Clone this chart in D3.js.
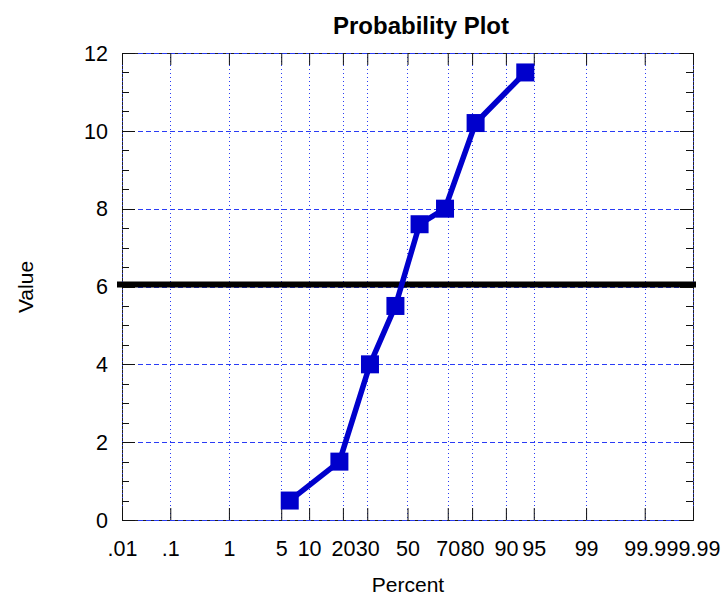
<!DOCTYPE html>
<html>
<head>
<meta charset="utf-8">
<script src="https://cdn.jsdelivr.net/npm/d3@7"></script>
<style>
  html, body { margin: 0; padding: 0; background: #fff; }
  svg { display: block; }
  text { font-family: "Liberation Sans", Arial, sans-serif; fill: #000; }
</style>
</head>
<body>
<svg id="chart" width="727" height="598"></svg>
<script>
// Percent plotting positions and observed values
const percents = [6.25, 18.75, 31.25, 43.75, 56.25, 68.75, 81.25, 93.75];
const values = [0.5, 1.5, 4.0, 5.5, 7.6, 8.0, 10.2, 11.5];

// Reference line (sample mean)
const refValue = 6.05;

// Probability axis ticks
const xTickPercents = [0.01, 0.1, 1, 5, 10, 20, 30, 50, 70, 80, 90, 95, 99, 99.9, 99.99];
const xTickLabels = [".01", ".1", "1", "5", "10", "20", "30", "50", "70", "80", "90", "95", "99", "99.9", "99.99"];

// Value axis ticks
const yTickValues = [0, 2, 4, 6, 8, 10, 12];
const yMinorValues = d3.range(0, 12.01, 0.5);

// Inverse standard normal CDF (Acklam's rational approximation)
function normInv(p) {
  const a = [-3.969683028665376e+01, 2.209460984245205e+02, -2.759285104469687e+02,
             1.383577518672690e+02, -3.066479806614716e+01, 2.506628277459239e+00];
  const b = [-5.447609879822406e+01, 1.615858368580409e+02, -1.556989798598866e+02,
             6.680131188771972e+01, -1.328068155288572e+01];
  const c = [-7.784894002430293e-03, -3.223964580411365e-01, -2.400758277161838e+00,
             -2.549732539343734e+00, 4.374664141464968e+00, 2.938163982698783e+00];
  const d = [7.784695709041462e-03, 3.224671290700398e-01, 2.445134137142996e+00,
             3.754408661907416e+00];
  const pl = 0.02425, ph = 1 - pl;
  let q, r;
  if (p < pl) {
    q = Math.sqrt(-2 * Math.log(p));
    return (((((c[0]*q+c[1])*q+c[2])*q+c[3])*q+c[4])*q+c[5]) /
           ((((d[0]*q+d[1])*q+d[2])*q+d[3])*q+1);
  } else if (p <= ph) {
    q = p - 0.5; r = q * q;
    return (((((a[0]*r+a[1])*r+a[2])*r+a[3])*r+a[4])*r+a[5])*q /
           (((((b[0]*r+b[1])*r+b[2])*r+b[3])*r+b[4])*r+1);
  } else {
    q = Math.sqrt(-2 * Math.log(1 - p));
    return -(((((c[0]*q+c[1])*q+c[2])*q+c[3])*q+c[4])*q+c[5]) /
            ((((d[0]*q+d[1])*q+d[2])*q+d[3])*q+1);
  }
}

const svg = d3.select("#chart");
const plotL = 122, plotR = 693, plotT = 53, plotB = 520;

const zScale = d3.scaleLinear()
  .domain([normInv(0.0001), normInv(0.9999)])
  .range([plotL, plotR]);
const x = p => zScale(normInv(p / 100));
const y = d3.scaleLinear().domain([0, 12]).range([plotB, plotT]);

const blue = "#0000cc";
const gridBlue = "#2a3cf5";
const tickFont = 21.5;

// Frame
svg.append("rect")
  .attr("x", plotL + 0.5).attr("y", plotT + 0.5)
  .attr("width", plotR - plotL).attr("height", plotB - plotT)
  .attr("fill", "none").attr("stroke", "#222").attr("stroke-width", 1);

// Vertical dotted grid
svg.append("g").attr("shape-rendering", "crispEdges")
  .selectAll("line").data(xTickPercents).join("line")
  .attr("x1", d => Math.round(x(d)) + 0.5).attr("x2", d => Math.round(x(d)) + 0.5)
  .attr("y1", plotT).attr("y2", plotB)
  .attr("stroke", gridBlue).attr("stroke-width", 1)
  .attr("stroke-dasharray", "1,3");

// Horizontal dashed grid
svg.append("g").attr("shape-rendering", "crispEdges")
  .selectAll("line").data(yTickValues).join("line")
  .attr("x1", plotL).attr("x2", plotR)
  .attr("y1", d => Math.round(y(d)) + 0.5).attr("y2", d => Math.round(y(d)) + 0.5)
  .attr("stroke", gridBlue).attr("stroke-width", 1)
  .attr("stroke-dasharray", "5,3");

// Bottom and top axes (ticks pointing inward)
const xAxisBottom = d3.axisBottom(zScale)
  .tickValues(xTickPercents.map(p => normInv(p / 100)))
  .tickFormat((d, i) => xTickLabels[i])
  .tickSizeInner(-12).tickSizeOuter(0);
const gxb = svg.append("g").attr("transform", `translate(0,${plotB})`).call(xAxisBottom);
gxb.select(".domain").remove();
gxb.selectAll("line").attr("stroke", "#111");
gxb.selectAll("text")
  .attr("font-size", tickFont).attr("font-family", "Liberation Sans, Arial, sans-serif")
  .attr("dy", null).attr("y", 36);

const xAxisTop = d3.axisTop(zScale)
  .tickValues(xTickPercents.map(p => normInv(p / 100)))
  .tickFormat("").tickSizeInner(-12).tickSizeOuter(0);
const gxt = svg.append("g").attr("transform", `translate(0,${plotT})`).call(xAxisTop);
gxt.select(".domain").remove();
gxt.selectAll("line").attr("stroke", "#111");

// Left and right axes with minor ticks
function yTicks(sel, side) {
  const dir = side === "left" ? 1 : -1;
  const xpos = side === "left" ? plotL : plotR;
  sel.selectAll("line.minor").data(yMinorValues).join("line").attr("class", "minor")
    .attr("x1", xpos).attr("x2", xpos + dir * 7)
    .attr("y1", d => Math.round(y(d)) + 0.5).attr("y2", d => Math.round(y(d)) + 0.5)
    .attr("stroke", "#111");
  sel.selectAll("line.major").data(yTickValues).join("line").attr("class", "major")
    .attr("x1", xpos).attr("x2", xpos + dir * 13)
    .attr("y1", d => Math.round(y(d)) + 0.5).attr("y2", d => Math.round(y(d)) + 0.5)
    .attr("stroke", "#111");
}
svg.append("g").call(yTicks, "left");
svg.append("g").call(yTicks, "right");

svg.append("g").selectAll("text").data(yTickValues).join("text")
  .attr("x", 108).attr("y", d => y(d)).attr("dy", "0.36em")
  .attr("text-anchor", "end").attr("font-size", tickFont)
  .text(d => d);

// Reference line
svg.append("line")
  .attr("x1", 117).attr("x2", 696)
  .attr("y1", y(refValue)).attr("y2", y(refValue))
  .attr("stroke", "#000").attr("stroke-width", 6);

// Data line and markers
const pts = percents.map((p, i) => [x(p), y(values[i])]);
svg.append("path")
  .attr("d", d3.line()(pts))
  .attr("fill", "none").attr("stroke", blue).attr("stroke-width", 5.5)
  .attr("stroke-linejoin", "round");
svg.append("g").selectAll("rect").data(pts).join("rect")
  .attr("x", d => d[0] - 9).attr("y", d => d[1] - 9)
  .attr("width", 18).attr("height", 18)
  .attr("fill", blue);

// Titles
svg.append("text")
  .attr("x", 421).attr("y", 34)
  .attr("text-anchor", "middle").attr("font-size", 24).attr("font-weight", "bold")
  .text("Probability Plot");
svg.append("text")
  .attr("x", 408).attr("y", 592)
  .attr("text-anchor", "middle").attr("font-size", 21)
  .text("Percent");
svg.append("text")
  .attr("transform", "translate(33,287) rotate(-90)")
  .attr("text-anchor", "middle").attr("font-size", 21)
  .text("Value");
</script>
</body>
</html>
